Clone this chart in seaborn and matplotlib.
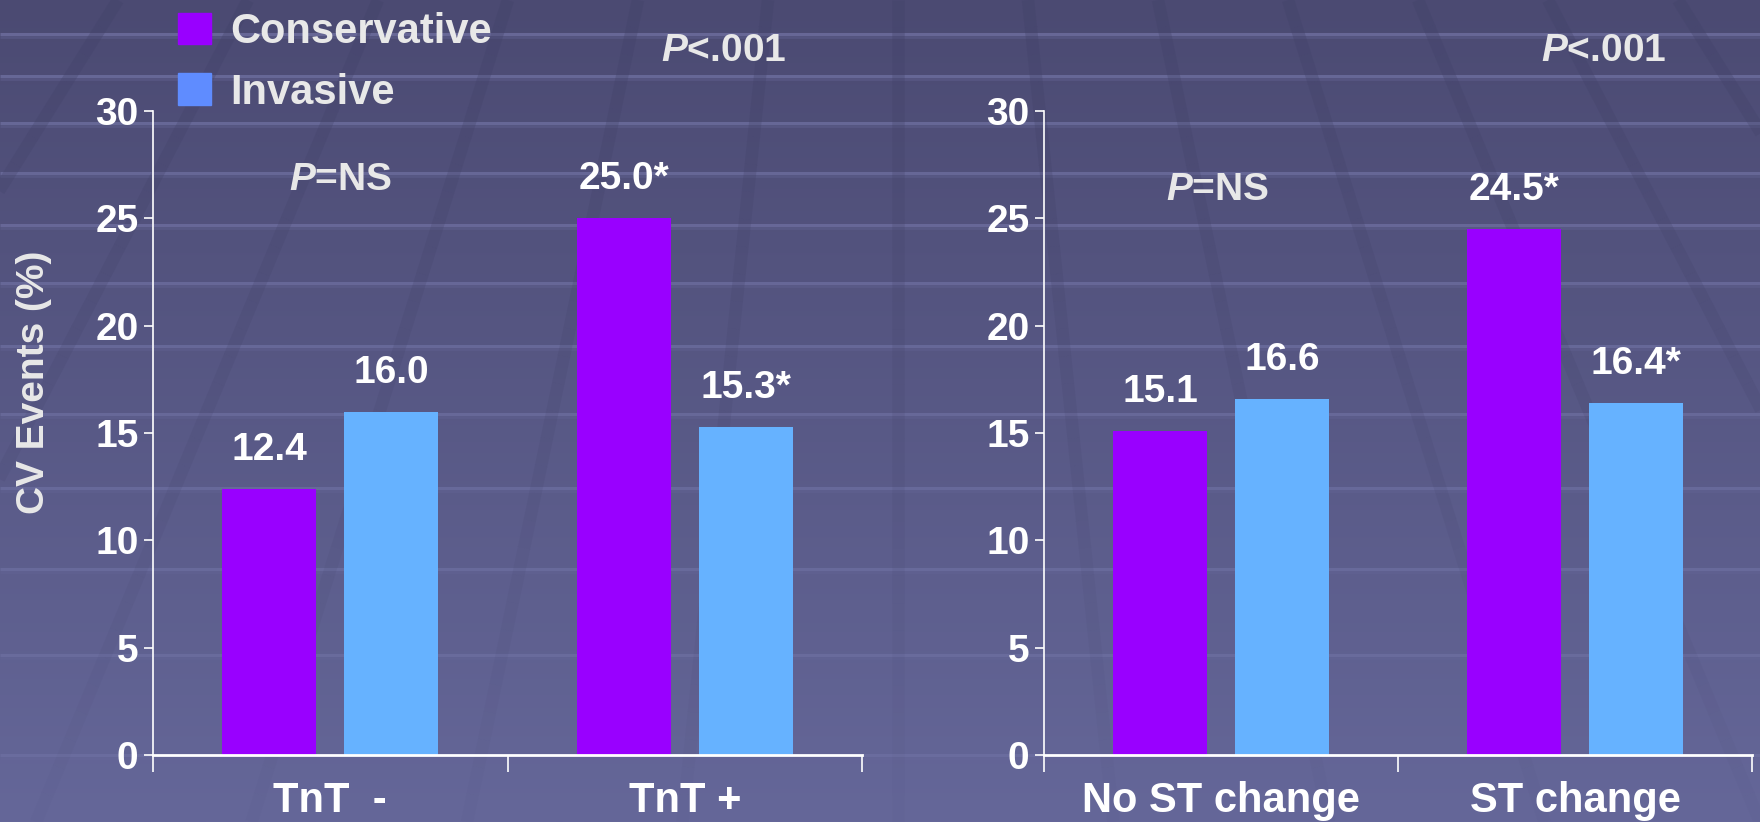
import numpy as np
import pandas as pd
import matplotlib
matplotlib.use("Agg")
import matplotlib.pyplot as plt
from matplotlib.patches import Patch
from matplotlib.collections import LineCollection
import seaborn as sns

# ---- data -------------------------------------------------------------
strategies = ["Conservative", "Invasive"]
troponin_groups = ["TnT  -", "TnT +"]
troponin_conservative = [12.4, 25.0]
troponin_invasive = [16.0, 15.3]
troponin_conservative_marks = ["", "*"]
troponin_invasive_marks = ["", "*"]
troponin_p_between = "=NS"
troponin_p_within = "<.001"

st_groups = ["No ST change", "ST change"]
st_conservative = [15.1, 24.5]
st_invasive = [16.6, 16.4]
st_conservative_marks = ["", "*"]
st_invasive_marks = ["", "*"]
st_p_between = "=NS"
st_p_within = "<.001"

y_ticks = [0, 5, 10, 15, 20, 25, 30]
y_label = "CV Events (%)"

# ---- style ------------------------------------------------------------
sns.set_style("ticks")
plt.rcParams["font.family"] = ["Liberation Sans", "DejaVu Sans"]
plt.rcParams["font.weight"] = "bold"
plt.rcParams["mathtext.fontset"] = "custom"
plt.rcParams["mathtext.it"] = "Liberation Sans:italic:bold"
plt.rcParams["mathtext.rm"] = "Liberation Sans:bold"
plt.rcParams["mathtext.bf"] = "Liberation Sans:bold"

PURPLE = "#9900FF"
BLUE = "#66B2FF"
BLUE_KEY = "#5F8CFF"
WHITE = "#FFFFFF"
SOFT = "#E8E8E8"

W, H = 1760, 822
fig = plt.figure(figsize=(W / 100, H / 100), dpi=100)

# ---- slide background: gradient, floor lines, perspective stripes ------
bg = fig.add_axes([0, 0, 1, 1], zorder=-10)
top = np.array([75, 74, 114]) / 255
bot = np.array([101, 103, 153]) / 255
t = np.linspace(0, 1, 400)[:, None]
grad = (top[None, :] * (1 - t) + bot[None, :] * t)[:, None, :]
bg.imshow(grad, extent=[0, W, H, 0], aspect="auto", interpolation="bilinear")

for yy in [34, 76, 123, 173, 225, 283, 346, 414, 488, 569, 655, 755]:
    fade = 1 - 0.6 * yy / H
    bg.plot([0, W], [yy, yy], color="#8a8cc4", lw=2.2, alpha=0.45 * fade,
            solid_capstyle="butt")
    bg.plot([0, W], [yy + 3, yy + 3], color="#6d6fa3", lw=2.0, alpha=0.3 * fade,
            solid_capstyle="butt")

vx, vy = 898, -1250
segs, cols = [], []
n_seg = 30
for xt in np.arange(898 - 130 * 8, 898 + 130 * 9, 130):
    ys = np.linspace(0, H, n_seg + 1)
    xs = vx + (xt - vx) * (ys - vy) / (0 - vy)
    for i in range(n_seg):
        segs.append([(xs[i], ys[i]), (xs[i + 1], ys[i + 1])])
        a = 0.32 * (1 - ys[i] / H) ** 1.3 + 0.03
        cols.append((0.26, 0.26, 0.41, a))
bg.add_collection(LineCollection(segs, colors=cols, linewidths=9, capstyle="butt"))
bg.set_xlim(0, W)
bg.set_ylim(H, 0)
bg.axis("off")


def panel(rect, groups, cons, inv, cons_marks, inv_marks, p_between, p_within,
          between_xy, within_xy):
    ax = fig.add_axes(rect)
    ax.set_facecolor("none")
    df = pd.DataFrame({
        "group": groups * 2,
        "strategy": [strategies[0]] * len(groups) + [strategies[1]] * len(groups),
        "value": list(cons) + list(inv),
    })
    sns.barplot(data=df, x="group", y="value", hue="strategy",
                order=groups, hue_order=strategies,
                palette=[PURPLE, BLUE], saturation=1,
                width=0.688, gap=0.23, linewidth=0, errorbar=None,
                legend=False, ax=ax)

    # value labels above each bar
    for container, vals, marks in zip(ax.containers, [cons, inv], [cons_marks, inv_marks]):
        for bar, v, m in zip(container, vals, marks):
            ax.annotate(f"{v:.1f}{m}",
                        xy=(bar.get_x() + bar.get_width() / 2, bar.get_height()),
                        xytext=(0, 28), textcoords="offset points",
                        ha="center", va="center", fontsize=28,
                        fontweight="bold", color=WHITE, annotation_clip=False)

    ax.text(*between_xy, r"$\mathit{P}$" + p_between, ha="center", va="center",
            fontsize=28, fontweight="bold", color=SOFT, clip_on=False)
    ax.text(*within_xy, r"$\mathit{P}$" + p_within, ha="center", va="center",
            fontsize=28, fontweight="bold", color=SOFT, clip_on=False)

    ax.set_xlim(-0.5, len(groups) - 0.5)
    ax.set_ylim(0, 30)
    ax.set_yticks(y_ticks)
    ax.set_yticklabels([str(v) for v in y_ticks])
    ax.set_xlabel("")
    ax.set_ylabel("")

    for side in ["top", "right"]:
        ax.spines[side].set_visible(False)
    ax.spines["left"].set_color(WHITE)
    ax.spines["left"].set_linewidth(1.2)
    ax.spines["bottom"].set_color(WHITE)
    ax.spines["bottom"].set_linewidth(2.0)

    ax.tick_params(axis="y", colors=WHITE, length=6.5, width=1.2, pad=4,
                   labelsize=28, labelcolor=WHITE)
    ax.tick_params(axis="x", which="major", length=0, pad=19,
                   labelsize=30, labelcolor=WHITE)
    ax.set_xticks(np.arange(-0.5, len(groups)), minor=True)
    ax.tick_params(axis="x", which="minor", length=12, width=1.2, colors=WHITE)
    for lab in ax.get_xticklabels() + ax.get_yticklabels():
        lab.set_fontweight("bold")
    return ax


ax_l = panel([153 / W, 67 / H, 709 / W, 644 / H],
             troponin_groups, troponin_conservative, troponin_invasive,
             troponin_conservative_marks, troponin_invasive_marks,
             troponin_p_between, troponin_p_within,
             (0.03, 26.8), (1.11, 32.8))
ax_r = panel([1044 / W, 67 / H, 708 / W, 644 / H],
             st_groups, st_conservative, st_invasive,
             st_conservative_marks, st_invasive_marks,
             st_p_between, st_p_within,
             (-0.01, 26.3), (1.08, 32.8))

fig.text(34 / W, 1 - 382 / H, y_label, rotation=90, ha="center", va="center",
         fontsize=28, fontweight="bold", color=SOFT)

leg = fig.legend(handles=[Patch(color=PURPLE), Patch(color=BLUE_KEY)],
                 labels=strategies, loc="upper left",
                 bbox_to_anchor=(178 / W, 1 - 12 / H), frameon=False,
                 prop={"size": 30, "weight": "bold"},
                 handlelength=0.8, handleheight=0.8, handletextpad=0.45,
                 labelspacing=0.5, borderpad=0, borderaxespad=0)
for txt in leg.get_texts():
    txt.set_color(SOFT)

fig.savefig("out.png", dpi=100)
